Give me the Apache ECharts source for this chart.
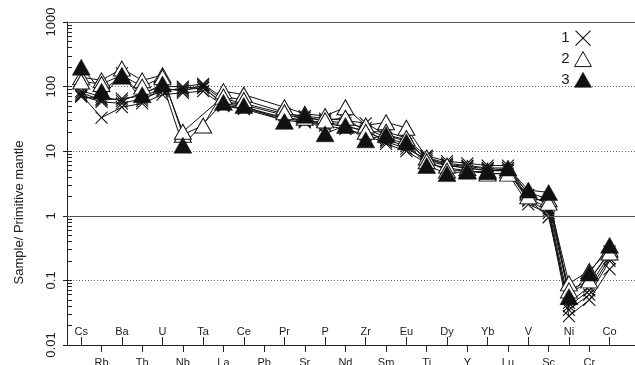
<!DOCTYPE html>
<html>
<head>
<meta charset="utf-8">
<script src="https://cdn.jsdelivr.net/npm/echarts@6/dist/echarts.min.js"></script>
<style>
  html, body { margin: 0; padding: 0; background: #fff; }
  #chart { width: 635px; height: 365px; }
</style>
</head>
<body>
<div id="chart"></div>
<script>
// element order of the spider diagram
const elements = ['Cs', 'Rb', 'Ba', 'Th', 'U', 'Nb', 'Ta', 'La', 'Ce', 'Pb', 'Pr', 'Sr', 'P', 'Nd',
  'Zr', 'Sm', 'Eu', 'Ti', 'Dy', 'Y', 'Yb', 'Lu', 'V', 'Sc', 'Ni', 'Cr', 'Co'];

// group 1 (crosses)
const group1a = [75, 33, 48, 55, 75, 80, 85, 50, 45, null, 30, 28, 25, 22, 18, 13, 10, 6.5, 5.5, 5, 4.5, 4.5, 1.5, 1.1, 0.028, 0.05, 0.15];
const group1b = [80, 62, 65, 72, 90, 90, 95, 55, 48, null, 33, 30, 28, 25, 20, 15, 12, 7, 6, 5.5, 5, 5, 1.7, 1.2, 0.035, 0.06, 0.2];
const group1c = [70, 65, 160, 60, 95, 85, 105, 60, 52, null, 36, 33, 30, 27, 23, 16, 13, 8, 6.5, 6, 5.5, 5.5, 1.9, 1.3, 0.045, 0.08, 0.25];
const group1d = [85, 70, 60, 80, 100, 100, 110, 65, 55, null, 38, 35, 32, 30, 27, 18, 15, 8.5, 7, 6.5, 6, 6, 2.1, 1.5, 0.06, 0.1, 0.28];
const group1e = [72, 58, 55, 65, 85, 95, 100, 52, 46, null, 32, 29, 27, 24, 21, 14, 11, 7.5, 6.2, 5.8, 5.3, 5.2, 1.8, 0.95, 0.04, 0.07, 0.22];
// group 2 (open triangles)
const group2a = [140, 125, 190, 125, 150, 18, 25, 85, 75, null, 48, 38, 35, 48, 25, 28, 23, 8, 6, 5.5, 5, 5, 2.3, 1.8, 0.09, 0.14, 0.3];
const group2b = [120, 110, 150, 100, 140, 20, null, 70, 62, null, 40, 33, 30, 33, 20, 20, 16, 7, 5, 5, 4.5, 4.5, 2, 1.6, 0.07, 0.1, 0.27];
// group 3 (filled triangles)
const group3a = [200, 85, 145, 75, 110, 12.4, null, 57, 51, null, 29, 36, 18.6, 25, 15, 18, 14, 6, 4.5, 4.9, 4.8, 5.5, 2.5, 2.3, 0.056, 0.13, 0.35];

const yTicks = [0.01, 0.1, 1, 10, 100, 1000];
// minor log ticks (2..9 of each decade), placed on a helper axis in log10 units
const yMinorTicks = [];
for (let e = -2; e < 3; e++) {
  for (let k = 1; k <= 9; k++) yMinorTicks.push(e + Math.log10(k));
}
yMinorTicks.push(3);

const evenIdx = elements.map((e, i) => i).filter(i => i % 2 === 0);
const oddIdx = elements.map((e, i) => i).filter(i => i % 2 === 1);

const font = 'Arial, "Liberation Sans", sans-serif';
const crossPath = 'path://M0,0L10,10M10,0L0,10';

const chart = echarts.init(document.getElementById('chart'));

function makeSeries(name, values, kind) {
  const s = {
    name: name,
    type: 'line',
    connectNulls: true,
    data: values.map((v, i) => [i, v === null ? '-' : v]),
    lineStyle: { color: '#111', width: 1 },
    emphasis: { disabled: true }
  };
  if (kind === 'cross') {
    s.symbol = crossPath;
    s.symbolSize = 12;
    s.itemStyle = { color: '#111', borderColor: '#111', borderWidth: 1.1 };
  } else if (kind === 'open') {
    s.symbol = 'triangle';
    s.symbolSize = [17, 15];
    s.itemStyle = { color: '#fff', borderColor: '#111', borderWidth: 1 };
  } else {
    s.symbol = 'triangle';
    s.symbolSize = [18, 16];
    s.itemStyle = { color: '#111', borderColor: '#111', borderWidth: 0.5 };
  }
  return s;
}

const series = [
  makeSeries('1', group1a, 'cross'),
  makeSeries('1', group1b, 'cross'),
  makeSeries('1', group1c, 'cross'),
  makeSeries('1', group1d, 'cross'),
  makeSeries('1', group1e, 'cross'),
  makeSeries('2', group2a, 'open'),
  makeSeries('2', group2b, 'open'),
  makeSeries('3', group3a, 'filled')
];

// solid reference lines at 1 and 1000
series[0].markLine = {
  silent: true,
  symbol: ['none', 'none'],
  label: { show: false },
  lineStyle: { type: 'solid', color: '#555', width: 1 },
  data: [{ yAxis: 1 }, { yAxis: 1000 }]
};

const xBase = {
  type: 'value',
  min: -0.7,
  max: 27.25,
  position: 'bottom',
  splitLine: { show: false }
};

const option = {
  animation: false,
  backgroundColor: '#fff',
  grid: { left: 67, right: 0, top: 22, bottom: 20, containLabel: false, outerBoundsMode: 'none' },
  legend: {
    orient: 'vertical',
    right: 38,
    top: 25,
    align: 'right',
    itemWidth: 17,
    itemHeight: 15,
    itemGap: 5,
    textStyle: { fontFamily: font, fontSize: 15, color: '#222' },
    data: [
      { name: '1', icon: crossPath, itemStyle: { color: '#111', borderColor: '#111', borderWidth: 1.1 } },
      { name: '2', icon: 'triangle', itemStyle: { color: '#fff', borderColor: '#111', borderWidth: 1 } },
      { name: '3', icon: 'triangle', itemStyle: { color: '#111', borderColor: '#111', borderWidth: 0.5 } }
    ]
  },
  xAxis: [
    Object.assign({}, xBase, {
      axisLine: { show: true, onZero: false, lineStyle: { color: '#222', width: 1 } },
      axisTick: { show: true, inside: true, length: 8, customValues: evenIdx, lineStyle: { color: '#222' } },
      axisLabel: {
        inside: true, margin: 8, customValues: evenIdx,
        formatter: v => elements[Math.round(v)],
        fontFamily: font, fontSize: 11, color: '#222'
      }
    }),
    Object.assign({}, xBase, {
      axisLine: { show: false, onZero: false },
      axisTick: { show: true, inside: false, length: 7, customValues: oddIdx, lineStyle: { color: '#222' } },
      axisLabel: {
        inside: false, margin: 12, customValues: oddIdx,
        formatter: v => elements[Math.round(v)],
        fontFamily: font, fontSize: 11, color: '#222'
      }
    })
  ],
  yAxis: [
    {
      type: 'log',
      logBase: 10,
      min: 0.01,
      max: 1000,
      name: 'Sample/ Primitive mantle',
      nameLocation: 'middle',
      nameGap: 41,
      nameTextStyle: { fontFamily: font, fontSize: 13, color: '#222', padding: [0, 58, 0, 0] },
      axisLine: { show: true, onZero: false, lineStyle: { color: '#222', width: 1 } },
      axisTick: { show: true, length: 4, lineStyle: { color: '#222' } },
      axisLabel: {
        rotate: 90, margin: 9,
        formatter: v => String(v),
        fontFamily: font, fontSize: 13, color: '#222'
      },
      splitLine: { show: true, lineStyle: { type: [1, 2], color: '#666', width: 1 } }
    },
    {
      type: 'value',
      min: -2,
      max: 3,
      position: 'left',
      offset: 0,
      axisLine: { show: false, onZero: false },
      axisTick: { show: true, inside: true, length: 5, customValues: yMinorTicks, lineStyle: { color: '#222' } },
      axisLabel: { show: false },
      splitLine: { show: false }
    }
  ],
  series: series
};

chart.setOption(option);
</script>
</body>
</html>
